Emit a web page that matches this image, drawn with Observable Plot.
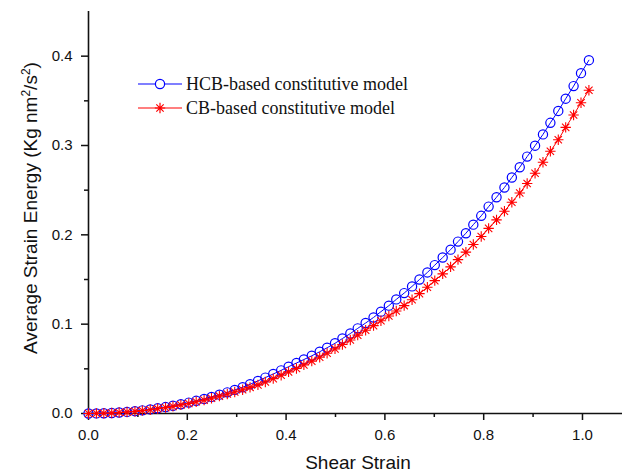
<!DOCTYPE html>
<html>
<head>
<meta charset="utf-8">
<script src="https://cdn.jsdelivr.net/npm/d3@7"></script>
<script src="https://cdn.jsdelivr.net/npm/@observablehq/plot@0.6"></script>
<style>
  html, body { margin: 0; padding: 0; background: #fff; }
  #chart { width: 622px; height: 473px; }
</style>
</head>
<body>
<div id="chart"></div>
<script>
// Shear strain (x) at each marker
const shearStrain = [0.000, 0.016, 0.031, 0.047, 0.062, 0.078, 0.094, 0.109, 0.125, 0.140,
  0.156, 0.171, 0.187, 0.203, 0.218, 0.234, 0.249, 0.265, 0.281, 0.296,
  0.312, 0.327, 0.343, 0.358, 0.374, 0.390, 0.405, 0.421, 0.436, 0.452,
  0.468, 0.483, 0.499, 0.514, 0.530, 0.545, 0.561, 0.577, 0.592, 0.608,
  0.623, 0.639, 0.655, 0.670, 0.686, 0.701, 0.717, 0.733, 0.748, 0.764,
  0.779, 0.795, 0.810, 0.826, 0.842, 0.857, 0.873, 0.888, 0.904, 0.920,
  0.935, 0.951, 0.966, 0.982, 0.997, 1.013];

// HCB-based constitutive model
const hcbEnergy = [0.0000, 0.0001, 0.0003, 0.0006, 0.0011, 0.0018, 0.0026, 0.0035, 0.0046, 0.0058,
  0.0072, 0.0087, 0.0104, 0.0122, 0.0142, 0.0163, 0.0186, 0.0211, 0.0237, 0.0264,
  0.0294, 0.0327, 0.0365, 0.0402, 0.0442, 0.0483, 0.0524, 0.0565, 0.0604, 0.0646,
  0.0691, 0.0736, 0.0786, 0.0839, 0.0895, 0.0953, 0.1013, 0.1075, 0.1140, 0.1207,
  0.1277, 0.1348, 0.1423, 0.1500, 0.1579, 0.1661, 0.1746, 0.1834, 0.1924, 0.2018,
  0.2114, 0.2213, 0.2316, 0.2421, 0.2530, 0.2642, 0.2757, 0.2876, 0.2998, 0.3124,
  0.3254, 0.3387, 0.3524, 0.3665, 0.3810, 0.3955];

// CB-based constitutive model
const cbEnergy = [0.0000, 0.0001, 0.0003, 0.0006, 0.0011, 0.0016, 0.0024, 0.0032, 0.0042, 0.0054,
  0.0066, 0.0080, 0.0096, 0.0112, 0.0131, 0.0150, 0.0171, 0.0194, 0.0218, 0.0241,
  0.0266, 0.0293, 0.0320, 0.0353, 0.0390, 0.0429, 0.0466, 0.0504, 0.0544, 0.0586,
  0.0630, 0.0675, 0.0723, 0.0772, 0.0823, 0.0877, 0.0932, 0.0984, 0.1038, 0.1092,
  0.1147, 0.1208, 0.1273, 0.1342, 0.1413, 0.1487, 0.1563, 0.1641, 0.1722, 0.1806,
  0.1892, 0.1981, 0.2072, 0.2167, 0.2264, 0.2365, 0.2468, 0.2574, 0.2690, 0.2812,
  0.2935, 0.3065, 0.3203, 0.3342, 0.3478, 0.3619];

const seriesNames = ["HCB-based constitutive model", "CB-based constitutive model"];
const xMajorTicks = [0.0, 0.2, 0.4, 0.6, 0.8, 1.0];
const xMinorTicks = [0.1, 0.3, 0.5, 0.7, 0.9];
const yMajorTicks = [0.0, 0.1, 0.2, 0.3, 0.4];
const yMinorTicks = [0.05, 0.15, 0.25, 0.35];
const xTitle = "Shear Strain";

const hcb = shearStrain.map((x, i) => ({x, y: hcbEnergy[i]}));
const cb = shearStrain.map((x, i) => ({x, y: cbEnergy[i]}));

const asterisk = {
  draw(ctx, size) {
    const r = Math.sqrt(size / Math.PI);
    for (let k = 0; k < 4; k++) {
      const a = k * Math.PI / 4;
      const dx = r * Math.cos(a), dy = r * Math.sin(a);
      ctx.moveTo(-dx, -dy);
      ctx.lineTo(dx, dy);
    }
  }
};

const fmt = d3.format(".1f");
const BLUE = "#0000ff", RED = "#ff0000";
const SANS = "'Liberation Sans', Arial, sans-serif";

const chart = Plot.plot({
  width: 622,
  height: 473,
  marginLeft: 88,
  marginRight: 0,
  marginTop: 11,
  marginBottom: 60,
  x: {domain: [0, 1.081]},
  y: {domain: [0, 0.45]},
  style: {fontFamily: SANS, fontSize: "15px", background: "white", overflow: "visible", color: "#111"},
  marks: [
    Plot.axisX({ticks: xMajorTicks, tickSize: 7, tickPadding: 9, tickFormat: fmt, label: null, fontSize: 15, strokeWidth: 1.5}),
    Plot.axisX({ticks: xMinorTicks, tickSize: 4, tickFormat: () => "", label: null, strokeWidth: 1.5}),
    Plot.axisY({ticks: yMajorTicks, tickSize: 7, tickPadding: 9, tickFormat: fmt, label: null, fontSize: 15, strokeWidth: 1.5}),
    Plot.axisY({ticks: yMinorTicks, tickSize: 4, tickFormat: () => "", label: null, strokeWidth: 1.5}),
    Plot.ruleY([0], {stroke: "#111", strokeWidth: 1.6}),
    Plot.ruleX([0], {stroke: "#111", strokeWidth: 1.6}),
    Plot.line(hcb, {x: "x", y: "y", stroke: BLUE, strokeWidth: 1}),
    Plot.dot(hcb, {x: "x", y: "y", r: 4.6, stroke: BLUE, fill: "none", strokeWidth: 1.2}),
    Plot.line(cb, {x: "x", y: "y", stroke: RED, strokeWidth: 1}),
    Plot.dot(cb, {x: "x", y: "y", r: 5.2, symbol: asterisk, stroke: RED, fill: "none", strokeWidth: 1.1})
  ]
});

document.getElementById("chart").appendChild(chart);

const svg = d3.select(chart);
// Axis titles
svg.append("text")
  .attr("x", 358).attr("y", 469)
  .attr("text-anchor", "middle")
  .attr("font-family", SANS)
  .attr("font-size", 19)
  .attr("fill", "#111")
  .text(xTitle);

const yt = svg.append("text")
  .attr("transform", "translate(37,208) rotate(-90)")
  .attr("text-anchor", "middle")
  .attr("font-family", SANS)
  .attr("font-size", 19)
  .attr("fill", "#111");
yt.append("tspan").text("Average Strain Energy (Kg nm");
yt.append("tspan").attr("baseline-shift", "super").attr("font-size", 12).text("2");
yt.append("tspan").text("/s");
yt.append("tspan").attr("baseline-shift", "super").attr("font-size", 12).text("2");
yt.append("tspan").text(")");

// Legend
const legend = svg.append("g")
  .attr("font-family", "'Liberation Serif', 'Times New Roman', serif")
  .attr("font-size", 18);
const rows = [
  {name: seriesNames[0], color: BLUE, sym: "circle", y: 84},
  {name: seriesNames[1], color: RED, sym: "star", y: 108}
];
rows.forEach(r => {
  const g = legend.append("g").attr("transform", `translate(0,${r.y})`);
  g.append("line").attr("x1", 138).attr("x2", 182).attr("y1", 0).attr("y2", 0).attr("stroke", r.color).attr("stroke-width", 1.2);
  if (r.sym === "circle") {
    g.append("circle").attr("cx", 160).attr("cy", 0).attr("r", 4.6).attr("fill", "white").attr("stroke", r.color).attr("stroke-width", 1.2);
  } else {
    const p = d3.path();
    asterisk.draw(p, Math.PI * 5.2 * 5.2);
    g.append("path").attr("transform", "translate(160,0)").attr("d", p.toString()).attr("stroke", r.color).attr("stroke-width", 1.2).attr("fill", "none");
  }
  g.append("text").attr("x", 186).attr("y", 6).attr("text-anchor", "start").attr("fill", "#111").text(r.name);
});
</script>
</body>
</html>
